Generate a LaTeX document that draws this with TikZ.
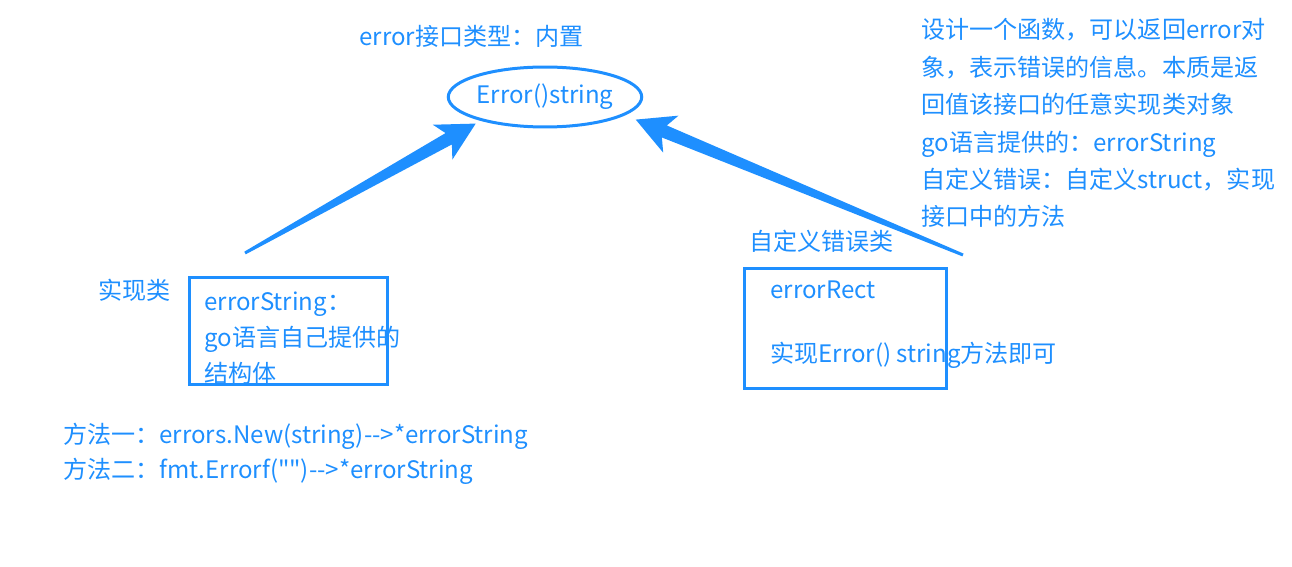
\documentclass[tikz,border=0pt]{standalone}
\usepackage{fontspec}
\setmainfont{Noto Sans CJK SC}[Ligatures=TeXOff]
\usetikzlibrary{calc,shapes.geometric}
\definecolor{linkblue}{HTML}{1E8FFF}

% tapered arrow: #1 tail coordinate, #2 tip coordinate
\newcommand{\fatarrow}[2]{%
  \coordinate (#1neck) at ($(#2)!0.62cm!(#1)$);
  \coordinate (#1base) at ($(#2)!0.76cm!(#1)$);
  \fill[linkblue] ($(#1)!0.03cm!90:(#2)$) -- ($(#1neck)!0.13cm!90:(#2)$)
    -- ($(#1base)!0.4cm!90:(#2)$) -- (#2) -- ($(#1base)!0.4cm!-90:(#2)$)
    -- ($(#1neck)!0.13cm!-90:(#2)$) -- ($(#1)!0.03cm!-90:(#2)$) -- cycle;
}

\begin{document}
\begin{tikzpicture}[
  x=0.02cm, y=-0.02cm,
  every node/.style={text=linkblue, font=\fontsize{13.7}{21.3}\selectfont},
  txt/.style={anchor=base west, inner sep=0pt, align=left},
  frame/.style={draw=linkblue, line width=0.06cm, inner sep=0pt},
]
\useasboundingbox (0,0) rectangle (1292,567);

\node[txt] (title) at (359, 46) {error接口类型：内置};
\node[frame, ellipse, minimum width=3.84cm, minimum height=1.2cm] (err) at (545, 97) {Error()string};

% multi-line nodes: base is the last line
\node[txt] (impl) at (98, 300) {实现类};
\node[frame, minimum width=3.98cm, minimum height=2.16cm] (strBox) at (288.5, 331) {};
\node[txt, font=\fontsize{13.7}{20.6}\selectfont] (strText) at (204, 383) {errorString：\\go语言自己提供的\\结构体};

\node[txt] (custom) at (749, 251) {自定义错误类};
\node[frame, minimum width=4.06cm, minimum height=2.42cm] (rectBox) at (845.5, 328.5) {};
\node[txt] (rectName) at (770, 299) {errorRect};
\node[txt] (rectNote) at (770, 363) {实现Error() string方法即可};

\node[txt] (note) at (921, 226) {设计一个函数，可以返回error对\\象，表示错误的信息。本质是返\\回值该接口的任意实现类对象\\go语言提供的：errorString\\自定义错误：自定义struct，实现\\接口中的方法};

\node[txt, font=\fontsize{13.7}{20.3}\selectfont] (ways) at (63, 479) {方法一：errors.New(string)-->*errorString\\方法二：fmt.Errorf("")-->*errorString};

\coordinate (tailL) at (245, 253);
\coordinate (tipL) at ($(err.center)!1.1!(err.201)$);
\coordinate (tailR) at (963, 255);
\coordinate (tipR) at ($(err.center)!1.17!(err.-14)$);
\fatarrow{tailL}{tipL}
\fatarrow{tailR}{tipR}

\end{tikzpicture}
\end{document}
